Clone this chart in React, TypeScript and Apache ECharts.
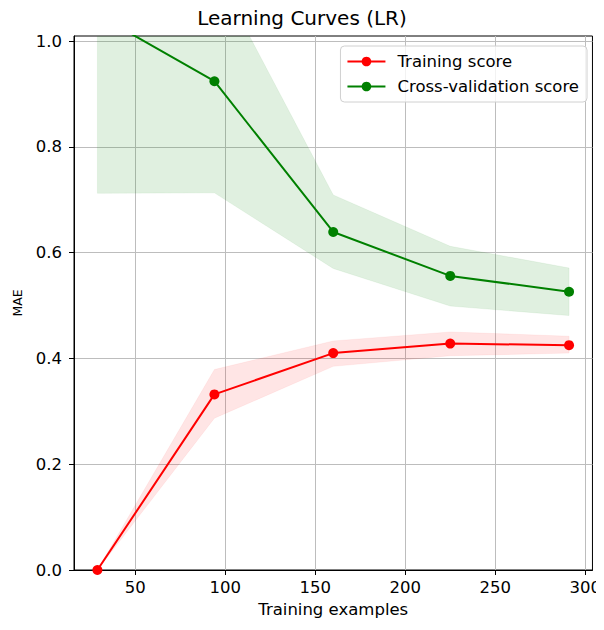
import React, { useEffect, useRef } from "react";
import * as echarts from "echarts";

const trainSizes = [29, 94, 160, 225, 291];
const trainMean = [0.0, 0.332, 0.41, 0.428, 0.425];
const trainLower = [0.0, 0.287, 0.385, 0.405, 0.41];
const trainUpper = [0.0, 0.379, 0.433, 0.45, 0.442];
const cvMean = [1.05, 0.924, 0.639, 0.556, 0.526];
const cvLower = [0.712, 0.713, 0.57, 0.499, 0.481];
const cvUpper = [1.388, 1.135, 0.709, 0.612, 0.571];
const xTicks = [50, 100, 150, 200, 250, 300];
const yTicks = [0.0, 0.2, 0.4, 0.6, 0.8, 1.0];
const xRange = [16, 304];
const yRange = [0, 1.0095];

const FONT = "DejaVu Sans";

function bandSeries(name: string, lower: number[], upper: number[], fill: string) {
  const rows = trainSizes.map((x, i) => [x, lower[i], upper[i]]);
  return {
    name,
    type: "custom",
    data: rows,
    encode: { x: 0, y: [1, 2] },
    clip: true,
    silent: true,
    z: 1,
    renderItem: (params: any, api: any) => {
      if (params.dataIndex !== 0) return { type: "group", children: [] };
      const top = rows.map((r) => api.coord([r[0], r[2]]));
      const bottom = rows.map((r) => api.coord([r[0], r[1]])).reverse();
      return {
        type: "polygon",
        shape: { points: top.concat(bottom) },
        style: { fill, stroke: fill, lineWidth: 0.5 },
      };
    },
  };
}

export default function App() {
  const ref = useRef<HTMLDivElement>(null);
  useEffect(() => {
    if (!ref.current) return;
    const chart = echarts.init(ref.current, null, { renderer: "svg" });
    const pairs = (ys: number[]) => trainSizes.map((x, i) => [x, ys[i]]);
    chart.setOption({
      animation: false,
      backgroundColor: "#fff",
      textStyle: { fontFamily: FONT },
      title: {
        text: "Learning Curves (LR)",
        left: "center",
        top: 8,
        padding: [0, 5, 0, 70],
        textStyle: { fontFamily: FONT, fontSize: 20, fontWeight: "normal", color: "#000" },
      },
      legend: {
        data: ["Training score", "Cross-validation score"],
        orient: "vertical",
        right: 17,
        top: 46,
        padding: [7, 8, 7, 6],
        itemWidth: 38,
        itemHeight: 12,
        itemGap: 8,
        backgroundColor: "rgba(255,255,255,0.8)",
        borderColor: "#d0d0d0",
        borderWidth: 1,
        borderRadius: 4,
        textStyle: { fontFamily: FONT, fontSize: 16.5, color: "#000", padding: [0, 0, 0, 7] },
      },
      grid: {
        left: 74,
        right: 9,
        top: 36,
        bottom: 60,
        show: true,
        borderColor: "#000",
        borderWidth: 1,
        backgroundColor: "transparent",
      },
      xAxis: {
        type: "value",
        min: xRange[0],
        max: xRange[1],
        name: "Training examples",
        nameLocation: "middle",
        nameGap: 31,
        nameTextStyle: { fontFamily: FONT, fontSize: 16.5, color: "#000" },
        axisLine: { show: true, lineStyle: { color: "#000", width: 1 } },
        axisTick: { show: true, length: 5, lineStyle: { color: "#000" }, customValues: xTicks },
        axisLabel: {
          customValues: xTicks,
          margin: 9,
          fontFamily: FONT,
          fontSize: 16.5,
          color: "#000",
          formatter: (v: number) => String(Math.round(v)),
        },
        splitLine: { show: true, lineStyle: { color: "#bdbdbd", width: 1 } },
      },
      yAxis: {
        type: "value",
        min: yRange[0],
        max: yRange[1],
        name: "MAE",
        nameLocation: "middle",
        nameGap: 50,
        nameTextStyle: { fontFamily: FONT, fontSize: 12.5, color: "#000" },
        axisLine: { show: true, lineStyle: { color: "#000", width: 1 } },
        axisTick: { show: true, length: 5, lineStyle: { color: "#000" }, customValues: yTicks },
        axisLabel: {
          customValues: yTicks,
          margin: 12,
          fontFamily: FONT,
          fontSize: 16.5,
          color: "#000",
          formatter: (v: number) => v.toFixed(1),
        },
        splitLine: { show: true, lineStyle: { color: "#bdbdbd", width: 1 } },
      },
      series: [
        bandSeries("trainBand", trainLower, trainUpper, "rgba(255,0,0,0.1)"),
        bandSeries("cvBand", cvLower, cvUpper, "rgba(0,128,0,0.12)"),
        {
          name: "Training score",
          type: "line",
          data: pairs(trainMean),
          symbol: "circle",
          symbolSize: 10,
          showAllSymbol: true,
          color: "#ff0000",
          itemStyle: { color: "#ff0000" },
          lineStyle: { color: "#ff0000", width: 2 },
          z: 3,
        },
        {
          name: "Cross-validation score",
          type: "line",
          data: pairs(cvMean),
          symbol: "circle",
          symbolSize: 10,
          showAllSymbol: true,
          color: "#008000",
          itemStyle: { color: "#008000" },
          lineStyle: { color: "#008000", width: 2 },
          z: 3,
        },
      ],
    });
    return () => chart.dispose();
  }, []);
  return <div ref={ref} style={{ width: 604, height: 630, margin: -8 }} />;
}
